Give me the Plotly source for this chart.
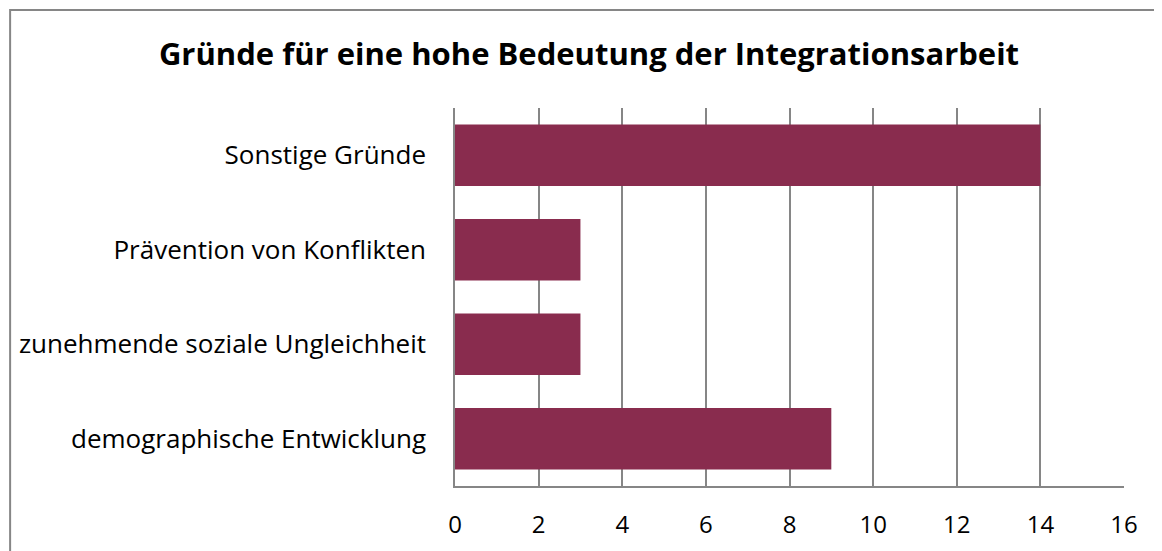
import plotly.graph_objects as go

categories = ["demographische Entwicklung", "zunehmende soziale Ungleichheit",
              "Prävention von Konflikten", "Sonstige Gründe"]
values = [9, 3, 3, 14]
tick_vals = [0, 2, 4, 6, 8, 10, 12, 14, 16]

fig = go.Figure(go.Bar(
    y=categories, x=values, orientation="h",
    marker=dict(color="#892C4E", line=dict(width=0)),
))

fig.update_layout(
    width=1162, height=551,
    margin=dict(l=447, r=46, t=100, b=73),
    paper_bgcolor="white", plot_bgcolor="white",
    font=dict(family="Open Sans", color="black"),
    title=dict(text="<b>Gründe für eine hohe Bedeutung der Integrationsarbeit</b>",
               x=0.5, xanchor="center", y=0.917, yanchor="middle",
               font=dict(size=31, family="Open Sans", color="black")),
    bargap=0.35,
    showlegend=False,
    # chart-area border, right and bottom edges fall outside the image
    shapes=[dict(type="rect", xref="paper", yref="paper",
                 x0=-0.665, x1=1.2, y0=-0.5, y1=1.259,
                 line=dict(color="#868686", width=2), layer="below")],
)
fig.update_xaxes(range=[0, 16], tickvals=tick_vals, showgrid=True,
                 gridcolor="#868686", gridwidth=1.5,
                 showline=True, linecolor="#868686", linewidth=1.5,
                 zeroline=False, ticks="", tickfont=dict(size=24),
                 ticklabelstandoff=16, automargin=False)
fig.update_yaxes(showgrid=False, showline=True, linecolor="#868686", linewidth=1.5,
                 ticks="", tickfont=dict(size=26), ticklabelstandoff=22,
                 automargin=False)

fig.write_html("out.html")
